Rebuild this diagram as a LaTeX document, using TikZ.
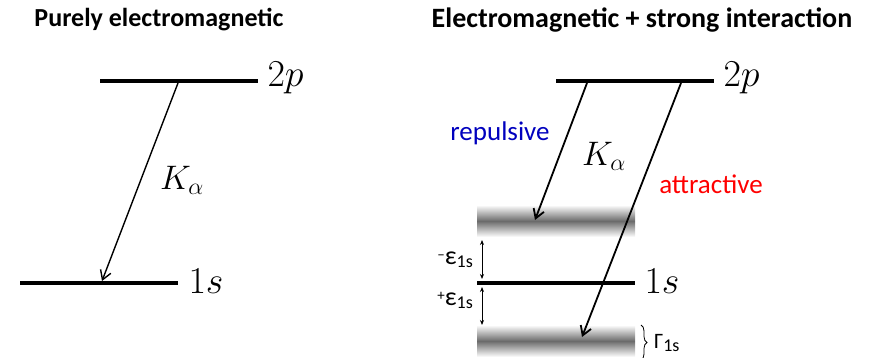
\RequirePackage{fix-cm}
\documentclass[tikz,border=0pt]{standalone}
\usepackage{fontspec}
\setmainfont{Carlito}
\usetikzlibrary{arrows.meta,decorations.pathreplacing}
\tikzset{
  levelline/.style={line width=4.5pt},
  transarrow/.style={line width=1.8pt,-{Straight Barb[length=9pt,width=11pt,line width=1.8pt]}},
  transthin/.style={line width=1.4pt,-{Straight Barb[length=9pt,width=11pt,line width=1.4pt]}},
  shiftarrow/.style={line width=0.8pt,{Stealth[length=5pt,width=4pt]}-{Stealth[length=5pt,width=4pt]}},
  titletext/.style={font=\bfseries\fontsize{26}{30}\selectfont},
  lvltext/.style={anchor=west,font=\fontsize{38}{40}\selectfont},
  katext/.style={font=\fontsize{34}{36}\selectfont},
  wordtext/.style={font=\fontsize{27}{30}\selectfont},
  bandshade/.style={top color=white,bottom color=white,middle color=black!58}
}
\newcommand{\epslabel}[1]{\raisebox{5pt}{\fontsize{15}{15}\selectfont #1}{\fontsize{26}{26}\selectfont ε}\raisebox{-3pt}{\fontsize{18}{18}\selectfont 1s}}
\begin{document}
\begin{tikzpicture}[x=1pt,y=-1pt]
\useasboundingbox (0,0) rectangle (874,358);
% titles
\node[titletext] (t1) at (159,20) {Purely electromagnetic};
\node[titletext,font=\bfseries\fontsize{28}{30}\selectfont] (t2) at (642,20) {Electromagnetic + strong interaction};
% left diagram
\coordinate (l2a) at (100,81); \coordinate (l2b) at (258,81);
\coordinate (l1a) at (20,283); \coordinate (l1b) at (178,283);
\draw[levelline] (l2a) -- (l2b);
\draw[levelline] (l1a) -- (l1b);
\node[lvltext] (l2p) at (264,78) {$2p$};
\node[lvltext] (l1s) at (185,281) {$1s$};
\coordinate (lfrom) at (178,83); \coordinate (lto) at (102,281);
\draw[transthin] (lfrom) -- (lto);
\node[katext] (lka) at (182,180) {$K_\alpha$};
% right diagram bands
\shade[bandshade] (477,205) rectangle (635,237);
\shade[bandshade] (477,325) rectangle (635,357);
\coordinate (r2a) at (556,81); \coordinate (r2b) at (714,81);
\coordinate (r1a) at (477,283); \coordinate (r1b) at (635,283);
\draw[levelline] (r2a) -- (r2b);
\draw[levelline] (r1a) -- (r1b);
\node[lvltext] (r2p) at (720,78) {$2p$};
\node[lvltext] (r1s) at (641,281) {$1s$};
\coordinate (rfrom1) at (587,83); \coordinate (rto1) at (535,220);
\coordinate (rfrom2) at (681,83); \coordinate (rto2) at (582,337);
\draw[transarrow] (rfrom1) -- (rto1);
\draw[transarrow] (rfrom2) -- (rto2);
\node[katext] (rka) at (604,156) {$K_\alpha$};
\node[wordtext,text={rgb,255:red,0;green,0;blue,190}] (rep) at (500,133) {repulsive};
\node[wordtext,text=red] (att) at (711,184) {attractive};
% shifts
\coordinate (s1a) at (482,240); \coordinate (s1b) at (482,279);
\coordinate (s2a) at (482,287); \coordinate (s2b) at (482,325);
\draw[shiftarrow] (s1a) -- (s1b);
\draw[shiftarrow] (s2a) -- (s2b);
\node[anchor=east,inner sep=1pt] (em) at (474,260) {\epslabel{–}};
\node[anchor=east,inner sep=1pt] (ep) at (474,300) {\epslabel{+}};
% width brace
\coordinate (ba) at (641,325); \coordinate (bb) at (641,360);
\draw[line width=0.8pt,decorate,decoration={brace,amplitude=6pt}] (ba) -- (bb);
\node[anchor=west,inner sep=1pt] (gam) at (653,343) {{\fontsize{22}{22}\selectfont Γ}\raisebox{-3pt}{\fontsize{18}{18}\selectfont 1s}};
\end{tikzpicture}
\end{document}
